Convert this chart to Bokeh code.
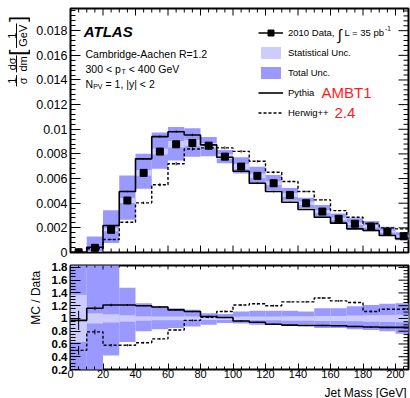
import math
from bokeh.plotting import figure
from bokeh.models import (Range1d, Label, Legend, LegendItem,
                          SingleIntervalTicker, CustomJSTickFormatter, Arrow)
from bokeh.layouts import column, row
from bokeh.embed import file_html
from bokeh.resources import INLINE

FONT = "Liberation Sans"
TOT = "#9999ff"
STAT = "#ccccff"
RED = "#ff1a1a"

# ---------------- data ----------------
edges = [10 * i for i in range(22)]          # bin edges 0..210 GeV
centers = [5 + 10 * i for i in range(21)]    # bin centres

data = [0.00002, 0.00038, 0.00184, 0.00422, 0.00646, 0.00819, 0.00878, 0.00889,
        0.00867, 0.00778, 0.00697, 0.00622, 0.00562, 0.00467, 0.00400, 0.00332,
        0.00273, 0.00233, 0.00211, 0.00170, 0.00132]
pythia = [0.00002, 0.00043, 0.00219, 0.00495, 0.00760, 0.00940, 0.00980, 0.00954,
          0.00873, 0.00773, 0.00659, 0.00562, 0.00495, 0.00408, 0.00349, 0.00286,
          0.00238, 0.00192, 0.00178, 0.00138, 0.00112]
herwig = [0.00001, 0.00030, 0.00105, 0.00246, 0.00403, 0.00550, 0.00720, 0.00840,
          0.00849, 0.00849, 0.00821, 0.00740, 0.00651, 0.00576, 0.00495, 0.00427,
          0.00340, 0.00286, 0.00235, 0.00200, 0.00192]
# relative uncertainties of the data
tot_lo = [0.0, 0.1, 0.42, 0.63, 0.80, 0.83, 0.85, 0.875, 0.90, 0.93, 0.92, 0.90,
          0.90, 0.90, 0.90, 0.85, 0.85, 0.83, 0.82, 0.80, 0.76]
tot_hi = [2.0, 3.4, 1.86, 1.48, 1.24, 1.19, 1.16, 1.135, 1.08, 1.07, 1.11, 1.12,
          1.12, 1.12, 1.11, 1.16, 1.16, 1.19, 1.21, 1.23, 1.24]
stat_rel = [0.37, 0.08, 0.065, 0.05, 0.035, 0.03, 0.03, 0.03, 0.025, 0.025, 0.03,
            0.03, 0.03, 0.035, 0.035, 0.04, 0.04, 0.045, 0.05, 0.055, 0.06]
# MC / Data ratios
pythia_ratio = [0.97, 1.16, 1.21, 1.21, 1.20, 1.18, 1.135, 1.11, 1.03, 1.015, 0.96,
                0.94, 0.91, 0.895, 0.89, 0.89, 0.885, 0.875, 0.865, 0.86, 0.86]
herwig_ratio = [0.50, 0.79, 0.58, 0.58, 0.62, 0.68, 0.82, 0.97, 1.02, 1.11, 1.21,
                1.23, 1.20, 1.26, 1.26, 1.32, 1.275, 1.25, 1.11, 1.145, 1.145]
pythia_ratio_err = [0.15, 0.03, 0.02, 0.015, 0.012, 0.012, 0.012, 0.012, 0.012, 0.012,
                    0.012, 0.012, 0.012, 0.012, 0.012, 0.012, 0.012, 0.012, 0.012,
                    0.012, 0.012]
herwig_ratio_err = [0.07, 0.04, 0.02, 0.018, 0.015, 0.015, 0.015, 0.015, 0.015, 0.015,
                    0.015, 0.015, 0.015, 0.015, 0.015, 0.015, 0.015, 0.015, 0.015,
                    0.015, 0.015]

X_MAX = 208
Y_MAX = 0.0198
R_MIN, R_MAX = 0.2, 1.83
x_major_step, x_minor_step = 20, 5
y_major_step, y_minor_step = 0.002, 0.0004
r_major_step, r_minor_step = 0.2, 0.05

FW = 338          # frame width  (px)
FH1 = 244         # top frame height (px)
FH2 = 104         # ratio frame height (px)


def steps(vals):
    return list(vals) + [vals[-1]]


def tick_lists(lo, hi, major, minor):
    n = int(round((hi - lo) / minor)) + 1
    vals = [round(lo + i * minor, 6) for i in range(n) if lo + i * minor <= hi + 1e-9]
    ratio = int(round(major / minor))
    maj = [v for i, v in enumerate(vals) if i % ratio == 0]
    mnr = [v for i, v in enumerate(vals) if i % ratio != 0]
    return maj, mnr


def style(ax, ticker, tick_in, minor_in, size, bold=False, digits=4):
    ax.ticker = ticker
    ax.axis_line_color = None
    ax.major_tick_in = tick_in
    ax.major_tick_out = 0
    ax.minor_tick_in = minor_in
    ax.minor_tick_out = 0
    ax.major_tick_line_color = "black"
    ax.minor_tick_line_color = "black"
    ax.major_label_text_font = FONT
    ax.major_label_text_font_size = size
    ax.major_label_text_color = "black"
    ax.major_label_standoff = 3
    if bold:
        ax.major_label_text_font_style = "bold"
    ax.formatter = CustomJSTickFormatter(
        code="return String(parseFloat(tick.toFixed(%d)));" % digits)


def edge_ticks(p, xr, yr, fh, xt_len, yt_len, top=True, bottom=True, right=True):
    """Inward tick marks on frame edges not covered by an axis."""
    dx = (xr[1] - xr[0]) / FW
    dy = (yr[1] - yr[0]) / fh
    xmaj, xmin = tick_lists(0, X_MAX, x_major_step, x_minor_step)
    for vals, ln in ((xmaj, xt_len[0]), (xmin, xt_len[1])):
        if bottom:
            p.segment(x0=vals, y0=[yr[0]] * len(vals), x1=vals,
                      y1=[yr[0] + ln * dy] * len(vals), line_color="black", line_width=1)
        if top:
            p.segment(x0=vals, y0=[yr[1]] * len(vals), x1=vals,
                      y1=[yr[1] - ln * dy] * len(vals), line_color="black", line_width=1)
    if right:
        ymaj, ymin = yt_len[2]
        for vals, ln in ((ymaj, yt_len[0]), (ymin, yt_len[1])):
            p.segment(x0=[xr[1]] * len(vals), y0=vals, x1=[xr[1] - ln * dx] * len(vals),
                      y1=vals, line_color="black", line_width=1)


def lab(p, text, x, y, size, align="left", baseline="alphabetic", color="black",
        style_="normal", angle=0.0, units="screen"):
    p.add_layout(Label(x=x, y=y, x_units=units, y_units=units, text=text,
                       text_font=FONT, text_font_size=size, text_align=align,
                       text_baseline=baseline, text_color=color,
                       text_font_style=style_, angle=angle))


def strip(w, h):
    s = figure(width=w, height=h, x_range=Range1d(0, w), y_range=Range1d(0, h),
               x_axis_type=None, y_axis_type=None, output_backend="svg",
               toolbar_location=None, min_border=0)
    s.outline_line_color = None
    s.background_fill_color = "white"
    s.border_fill_color = "white"
    return s


# ---------------- top panel ----------------
p1 = figure(width=380, height=260, x_range=Range1d(0, X_MAX), y_range=Range1d(0, Y_MAX),
            output_backend="svg", toolbar_location=None, x_axis_location=None,
            min_border_left=40, min_border_right=2, min_border_top=8, min_border_bottom=8)
p1.xgrid.visible = False
p1.ygrid.visible = False
p1.outline_line_color = "black"
p1.outline_line_width = 2
p1.background_fill_color = "white"
p1.border_fill_color = "white"
style(p1.yaxis[0], SingleIntervalTicker(interval=y_major_step, num_minor_ticks=5), 10, 5,
      "12.5px")

tot_bot = [d * l for d, l in zip(data, tot_lo)]
tot_top = [d * h for d, h in zip(data, tot_hi)]
st_bot = [d * (1 - s) for d, s in zip(data, stat_rel)]
st_top = [d * (1 + s) for d, s in zip(data, stat_rel)]

r_tot = p1.quad(left=edges[:-1], right=edges[1:], bottom=tot_bot, top=tot_top,
                fill_color=TOT, line_color=None)
r_stat = p1.quad(left=edges[:-1], right=edges[1:], bottom=st_bot, top=st_top,
                 fill_color=STAT, line_color=None)
r_py = p1.step(edges, steps(pythia), mode="after", line_color="black", line_width=1.6)
py_rel = [e / r for e, r in zip(pythia_ratio_err, pythia_ratio)]
p1.segment(x0=centers, y0=[v * (1 - e) for v, e in zip(pythia, py_rel)],
           x1=centers, y1=[v * (1 + e) for v, e in zip(pythia, py_rel)],
           line_color="black", line_width=1)
r_hw = p1.step(edges, steps(herwig), mode="after", line_color="black", line_width=1.4,
               line_dash="3 2")
hw_rel = [e / r for e, r in zip(herwig_ratio_err, herwig_ratio)]
p1.segment(x0=centers, y0=[v * (1 - e) for v, e in zip(herwig, hw_rel)],
           x1=centers, y1=[v * (1 + e) for v, e in zip(herwig, hw_rel)],
           line_color="black", line_width=1)
r_data = p1.scatter(centers, data, marker="square", size=7, color="black")
r_dline = p1.line(x=[centers[0]], y=[float("nan")], line_color="black", line_width=1.5)

edge_ticks(p1, (0, X_MAX), (0, Y_MAX), FH1, (7, 4),
           (10, 5, tick_lists(0, Y_MAX, y_major_step, y_minor_step)))

legend = Legend(items=[
    LegendItem(label="2010 Data,", renderers=[r_dline, r_data]),
    LegendItem(label="Statistical Unc.", renderers=[r_stat]),
    LegendItem(label="Total Unc.", renderers=[r_tot]),
    LegendItem(label="Pythia", renderers=[r_py]),
    LegendItem(label="Herwig++", renderers=[r_hw]),
], location=(188, 132.5), orientation="vertical", glyph_width=25, glyph_height=15,
    label_height=15, spacing=5, padding=0, margin=0, border_line_color=None,
    background_fill_alpha=0, label_standoff=5, label_text_font=FONT,
    label_text_font_size="9.5px", label_text_color="black")
p1.add_layout(legend)

# texts in the top panel (screen units relative to the frame)
lab(p1, "ATLAS", 13.3, 221.3, "15px", style_="bold italic")
lab(p1, "Cambridge-Aachen R=1.2", 15, 198.7, "10.5px")
lab(p1, "300 < p", 15, 183.7, "10.5px")
lab(p1, "T", 51, 181.2, "7px")
lab(p1, "< 400 GeV", 58.3, 183.7, "10.5px")
lab(p1, "N", 15, 168.7, "10.5px")
lab(p1, "PV", 22.7, 166, "7px")
lab(p1, "= 1, |y| < 2", 35, 168.7, "10.5px")

lab(p1, "\u222b", 269, 218.5, "15px", align="center", baseline="middle")
lab(p1, "L = 35 pb", 274, 220, "9.5px", baseline="middle")
lab(p1, "-1", 314.5, 224, "6.5px", baseline="middle")
lab(p1, "AMBT1", 251, 160.5, "15px", baseline="middle", color=RED)
lab(p1, "2.4", 264, 139.5, "15px", baseline="middle", color=RED)

# y-axis title strip: 1/sigma dsigma/dm [1/GeV]
L1 = strip(30, 260)
A = math.pi / 2


def ytxt(t, x, y, size="11px"):
    lab(L1, t, x, y, size, align="center", baseline="middle", angle=A, units="data")


def ybar(x, y0, y1):
    L1.add_layout(Arrow(x_start=x, y_start=y0, x_end=x, y_end=y1, start=None, end=None,
                        line_color="black", line_width=1))


ytxt("1", 11, 183)
ytxt("\u03c3", 22, 183)
ybar(16, 177, 189)
ytxt("d\u03c3", 11, 201)
ytxt("dm", 22, 201)
ybar(16, 192, 210)
ytxt("[", 16.5, 213, "22px")
ytxt("1", 11, 231)
ytxt("GeV", 22, 231)
ybar(16, 218, 244)
ytxt("]", 16.5, 249, "22px")

# ---------------- ratio panel ----------------
p2 = figure(width=365, height=121, x_range=Range1d(0, X_MAX), y_range=Range1d(R_MIN, R_MAX),
            output_backend="svg", toolbar_location=None,
            min_border_left=25, min_border_right=2, min_border_top=5, min_border_bottom=12)
p2.xgrid.visible = False
p2.ygrid.visible = False
p2.outline_line_color = "black"
p2.outline_line_width = 2
p2.background_fill_color = "white"
p2.border_fill_color = "white"

style(p2.xaxis[0], SingleIntervalTicker(interval=x_major_step, num_minor_ticks=4), 6, 3,
      "11px")
p2.xaxis[0].major_label_standoff = 0
style(p2.yaxis[0], SingleIntervalTicker(interval=r_major_step, num_minor_ticks=4), 10, 5,
      "11.5px", bold=True, digits=2)

p2.quad(left=edges[:-1], right=edges[1:], bottom=tot_lo, top=tot_hi,
        fill_color=TOT, line_color=None)
p2.quad(left=edges[:-1], right=edges[1:], bottom=[1 - s for s in stat_rel],
        top=[1 + s for s in stat_rel], fill_color=STAT, line_color=None)
p2.step(edges, steps(pythia_ratio), mode="after", line_color="black", line_width=1.6)
p2.segment(x0=centers, y0=[r - e for r, e in zip(pythia_ratio, pythia_ratio_err)],
           x1=centers, y1=[r + e for r, e in zip(pythia_ratio, pythia_ratio_err)],
           line_color="black", line_width=1)
p2.step(edges, steps(herwig_ratio), mode="after", line_color="black", line_width=1.4,
        line_dash="3 2")
p2.segment(x0=centers, y0=[r - e for r, e in zip(herwig_ratio, herwig_ratio_err)],
           x1=centers, y1=[r + e for r, e in zip(herwig_ratio, herwig_ratio_err)],
           line_color="black", line_width=1)

edge_ticks(p2, (0, X_MAX), (R_MIN, R_MAX), FH2, (4, 2),
           (10, 5, tick_lists(R_MIN, 1.8, r_major_step, r_minor_step)), bottom=False)

L2 = strip(45, 121)
lab(L2, "MC / Data", 35, 83.5, "12px", align="center", baseline="middle", angle=A,
    units="data")

B = strip(410, 17)
lab(B, "Jet Mass [GeV]", 406, 6, "12px", align="right", units="data")

layout = column(row(L1, p1), row(L2, p2), B)
open("out.html", "w").write(file_html(layout, INLINE))
